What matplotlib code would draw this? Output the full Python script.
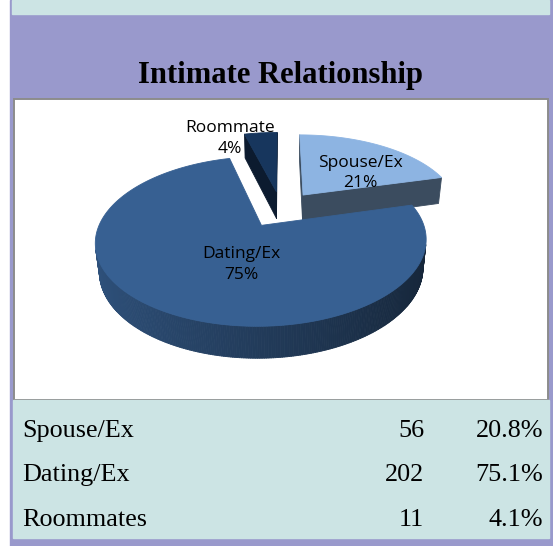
import numpy as np
import matplotlib
matplotlib.use("Agg")
import matplotlib.pyplot as plt
from matplotlib.patches import Polygon, Rectangle

# ---- data ----
title = "Intimate Relationship"
slice_labels = ["Spouse/Ex", "Dating/Ex", "Roommate"]
row_labels = ["Spouse/Ex", "Dating/Ex", "Roommates"]
counts = [56, 202, 11]
top_colors = ["#8DB4E2", "#376092", "#17365D"]

total = sum(counts)
shares = [c / total for c in counts]

W, H = 553, 546
fig = plt.figure(figsize=(W / 100, H / 100), dpi=100)
ax = fig.add_axes([0, 0, 1, 1])
ax.set_xlim(0, W)
ax.set_ylim(H, 0)
ax.axis("off")

PURPLE = "#9999CC"
CYAN = "#CCE4E4"

# ---- page panels ----
ax.add_patch(Rectangle((10, 0), W - 10, H, color=PURPLE, zorder=0))
ax.add_patch(Rectangle((12, 0), 537, 14, color=CYAN, zorder=1))
ax.add_patch(Rectangle((13.5, 98.5), 534, 301, facecolor="white",
                       edgecolor="#8C8C8C", lw=1.4, zorder=1))
ax.add_patch(Rectangle((13, 400), 536, 138, color=CYAN, zorder=1))

ax.text(281, 83, title, ha="center", va="baseline", fontsize=22,
        fontweight="bold", family="Liberation Serif", zorder=5)

# ---- 3D exploded pie with perspective ----
phi = np.radians(29)          # viewing elevation
dist = 4.8                    # camera distance (pie radii)
focal = 750.0                 # px per radius at unit depth
origin = np.array([281.0, 209.0])
thick = 0.205                 # slab thickness (radii)
explode = 0.24

cam = np.array([0.0, -dist * np.cos(phi), dist * np.sin(phi)])
fwd = np.array([0.0, np.cos(phi), -np.sin(phi)])
upv = np.array([0.0, np.sin(phi), np.cos(phi)])


def project(P):
    P = np.atleast_2d(P)
    v = P - cam
    xc = v[:, 0]
    yc = v @ upv
    zc = v @ fwd
    return np.column_stack([origin[0] + focal * xc / zc,
                            origin[1] - focal * yc / zc])


def shade(hexcol, k):
    c = np.array(matplotlib.colors.to_rgb(hexcol)) * k
    return tuple(np.clip(c, 0, 1))


def facing(pts, normal):
    mid = pts.mean(axis=0)
    return np.dot(cam - mid, normal) > 0


def draw_face(pts3, color, z):
    xy = project(pts3)
    ax.add_patch(Polygon(xy, closed=True, facecolor=color, edgecolor=color,
                         lw=0.6, zorder=z, joinstyle="round"))


bounds = np.concatenate([[0], np.cumsum(shares)]) * 360.0
slices = []
for i in range(len(counts)):
    t1, t2 = bounds[i], bounds[i + 1]
    mid = np.radians((t1 + t2) / 2)
    off = explode * np.array([np.sin(mid), np.cos(mid), 0.0])
    slices.append((i, t1, t2, off))

# paint the farthest slices first
order = sorted(slices, key=lambda s: -(s[3][1] + 0.5 * np.cos(np.radians((s[1] + s[2]) / 2))))

z = 2
for i, t1, t2, off in order:
    col = top_colors[i]
    th = np.radians(np.linspace(t1, t2, max(8, int((t2 - t1) * 1.5))))
    rim = np.column_stack([np.sin(th), np.cos(th), np.zeros_like(th)]) + off
    rim_b = rim - np.array([0, 0, thick])
    apex = off
    apex_b = off - np.array([0, 0, thick])

    # radial cut faces
    for t, sgn in ((t1, -1), (t2, 1)):
        r = np.radians(t)
        n = sgn * np.array([np.cos(r), -np.sin(r), 0.0])
        e = off + np.array([np.sin(r), np.cos(r), 0.0])
        quad = np.array([apex, e, e - [0, 0, thick], apex_b])
        if facing(quad, n):
            k = 0.42 if i == 0 else (0.5 if i == 2 else 0.45)
            draw_face(quad, shade(col, k), z)
    z += 0.01

    # outer wall, lit from the left
    for k in range(len(th) - 1):
        quad = np.array([rim[k], rim[k + 1], rim_b[k + 1], rim_b[k]])
        tm = (th[k] + th[k + 1]) / 2
        n = np.array([np.sin(tm), np.cos(tm), 0.0])
        if facing(quad, n):
            draw_face(quad, shade(col, 0.62 - 0.23 * np.sin(tm)), z)
    z += 0.01

    # top face
    top = np.vstack([apex, rim])
    draw_face(top, col, z)
    z += 0.1

# ---- data labels ----
lab_font = dict(family="Open Sans", fontsize=12.5, color="black", zorder=10,
                ha="center", va="center", linespacing=1.4)
lab_radius = [0.62, 0.45, 1.35]
lab_shift = [(7, 10), (21, 5), (-26, 22)]   # fine placement in px
for i, t1, t2, off in slices:
    mid = np.radians((t1 + t2) / 2)
    p = off + lab_radius[i] * np.array([np.sin(mid), np.cos(mid), 0.0])
    x, y = project(p)[0]
    dx, dy = lab_shift[i]
    ax.text(x + dx, y + dy, f"{slice_labels[i]}\n{shares[i] * 100:.0f}%", **lab_font)

# ---- summary table ----
row_base = [437, 481, 526]
tab_font = dict(family="Liberation Serif", fontsize=18.8, va="baseline", zorder=5)
for lbl, c, s, yb in zip(row_labels, counts, shares, row_base):
    ax.text(22, yb, lbl, ha="left", **tab_font)
    ax.text(424, yb, f"{c}", ha="right", **tab_font)
    ax.text(543, yb, f"{s * 100:.1f}%", ha="right", **tab_font)

fig.savefig("out.png", dpi=100)
